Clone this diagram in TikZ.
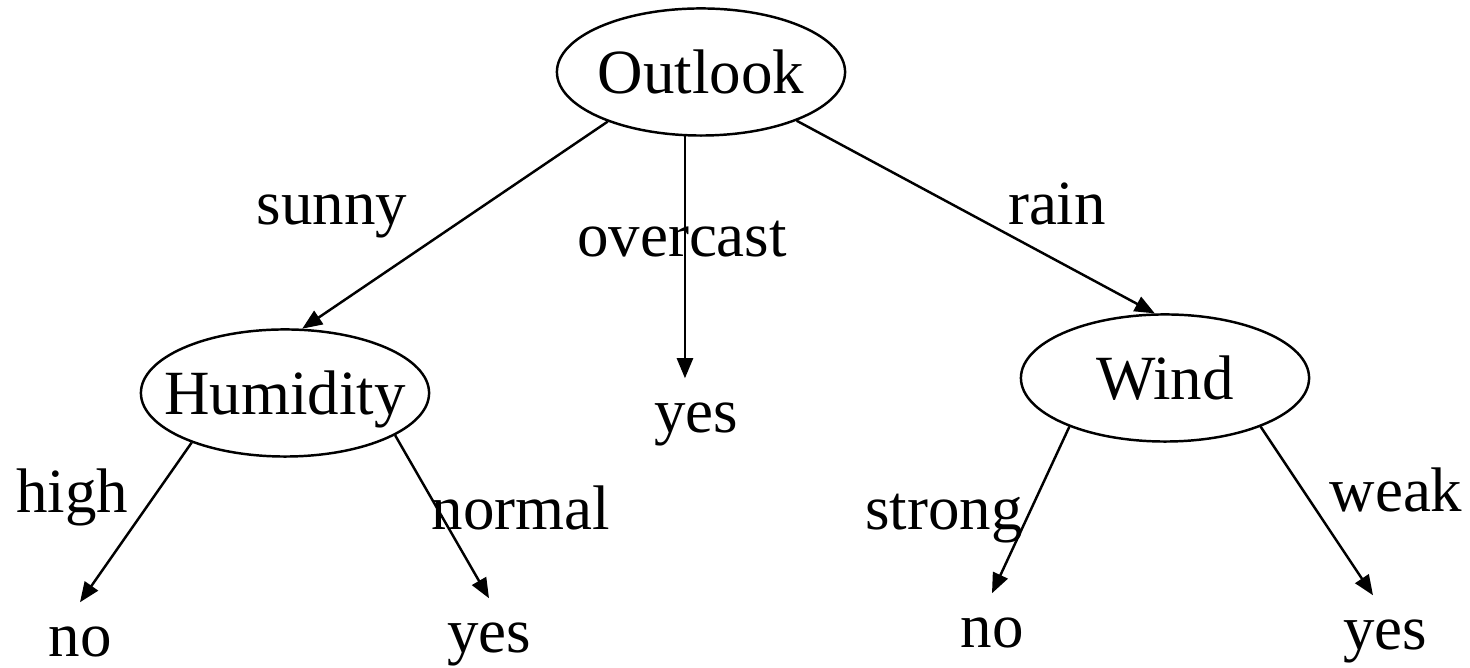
\documentclass[tikz,border=0pt]{standalone}
\usepackage{fontspec}
\setmainfont{Liberation Serif}
\usetikzlibrary{arrows.meta,shapes.geometric}

\begin{document}
\begin{tikzpicture}[x=0.01cm, y=-0.01cm, font=\fontsize{17.9}{21}\selectfont,
  test/.style={draw, ellipse, line width=0.7pt, minimum width=2.88cm, minimum height=1.27cm, inner sep=0pt, text depth=0pt},
  leaf/.style={anchor=base, text height=0.28cm, text depth=0pt, inner xsep=0pt, inner ysep=0.26cm},
  lbl/.style={anchor=base, inner sep=0pt},
  arr/.style={line width=0.7pt, -{Triangle[length=0.2cm, width=0.16cm]}}]
\useasboundingbox (0,0) rectangle (1470,668);
% attribute tests
\node[test] (outlook) at (701,72) {\makebox[0pt]{Outlook}};
\node[test] (humidity) at (285,393) {\makebox[0pt]{Humidity}};
\node[test] (wind) at (1165,378) {\makebox[0pt]{Wind}};
% class leaves
\node[leaf] (noHigh) at (80,657) {no};
\node[leaf] (yesNormal) at (489,653) {yes};
\node[leaf] (yesOvercast) at (696,433) {yes};
\node[leaf] (noStrong) at (992,648) {no};
\node[leaf] (yesWeak) at (1385,650) {yes};
% branch values
\node[lbl] (sunny) at (332,225) {sunny};
\node[lbl] (overcast) at (682,257) {overcast};
\node[lbl] (rain) at (1057,225) {rain};
\node[lbl] (high) at (72,513) {high};
\node[lbl] (normal) at (521,530) {normal};
\node[lbl] (strong) at (944,530) {strong};
\node[lbl] (weak) at (1396,512) {weak};
% branches
\draw[arr] (outlook.208) -- (humidity.75);
\draw[arr] (outlook.256) -- (outlook.256 |- yesOvercast.north);
\draw[arr] (outlook.333) -- (wind.99);
\draw[arr] (humidity.208) -- (noHigh.north);
\draw[arr] (humidity.339) -- (yesNormal.north);
\draw[arr] (wind.207) -- (noStrong.north);
\draw[arr] (wind.333) -- ([xshift=-0.12cm]yesWeak.north);
\end{tikzpicture}
\end{document}
